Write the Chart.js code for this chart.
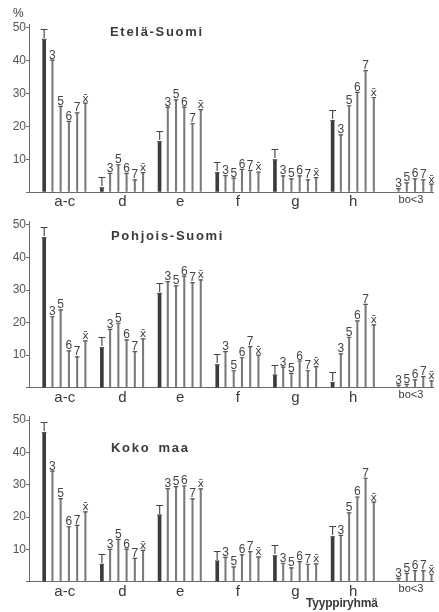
<!DOCTYPE html>
<html><head><meta charset="utf-8">
<script src="https://cdn.jsdelivr.net/npm/chart.js@4/dist/chart.umd.min.js"></script>
<style>
html,body{margin:0;padding:0;background:#fff;}
#wrap{position:relative;width:439px;height:612px;overflow:hidden;font-family:"Liberation Sans",Arial,sans-serif;color:#3a3a3a;}
canvas{position:absolute;left:0;}
.ttl{position:absolute;font-weight:bold;font-size:13px;letter-spacing:1.7px;word-spacing:3px;line-height:13px;white-space:nowrap;}
.lbl{position:absolute;font-size:12px;line-height:12px;white-space:nowrap;}
</style></head>
<body><div id="wrap">
<canvas id="c1" width="439" height="212" style="top:0px"></canvas>
<canvas id="c2" width="439" height="208" style="top:200px"></canvas>
<canvas id="c3" width="439" height="207" style="top:395px"></canvas>
<div class="lbl" style="left:13px;top:7px;">%</div>
<div class="ttl" style="left:110px;top:25px;">Etelä-Suomi</div>
<div class="ttl" style="left:111px;top:229px;">Pohjois-Suomi</div>
<div class="ttl" style="left:111px;top:441px;">Koko maa</div>
<div class="lbl" style="left:306px;top:597px;font-weight:bold;letter-spacing:-0.2px;">Tyyppiryhmä</div>
</div>
<script>
const categories = ['a-c','d','e','f','g','h','bo<3'];
const seriesLabels = ['T','3','5','6','7','x̄'];
const yTicks = [0,10,20,30,40,50];

// Etelä-Suomi
const etelaT = [46.5, 1.3, 15.4, 5.9, 9.8, 21.8, null];
const etela3 = [40.2, 5.7, 25.9, 5.0, 4.9, 17.4, 1.0];
const etela5 = [26.1, 8.3, 28.1, 4.2, 4.0, 26.3, 2.8];
const etela6 = [21.5, 5.7, 25.9, 6.9, 4.9, 30.4, 4.0];
const etela7 = [24.1, 3.7, 20.8, 6.6, 3.7, 37.0, 3.7];
const etelaX = [27.1, 5.9, 25.1, 6.1, 4.4, 28.8, 2.4];

// Pohjois-Suomi
const pohjoisT = [46.1, 12.3, 29.0, 7.0, 3.9, 1.6, null];
const pohjois3 = [21.8, 17.9, 32.6, 11.1, 6.3, 10.4, 0.8];
const pohjois5 = [23.9, 19.8, 31.3, 5.2, 4.4, 15.5, 1.0];
const pohjois6 = [11.3, 14.7, 34.3, 9.2, 8.2, 20.5, 2.4];
const pohjois7 = [9.5, 11.1, 32.3, 12.6, 5.2, 25.6, 3.4];
const pohjoisX = [14.4, 15.0, 33.1, 10.0, 6.5, 19.3, 2.1];

// Koko maa
const kokoT = [46.1, 5.4, 20.6, 6.4, 8.0, 13.9, null];
const koko3 = [34.2, 10.0, 28.8, 7.5, 5.7, 14.3, 1.0];
const koko5 = [25.7, 13.1, 29.4, 4.6, 4.3, 21.3, 2.6];
const koko6 = [17.0, 10.1, 29.6, 8.3, 6.2, 26.2, 3.4];
const koko7 = [17.4, 7.2, 25.6, 9.3, 5.4, 32.0, 3.4];
const kokoX = [21.6, 9.7, 28.7, 7.7, 5.5, 24.6, 2.3];

const SLOTS = seriesLabels.length + 1;

function buildPoints(seriesList, onlyFirst){
  const pts = [];
  seriesList.forEach((arr, s) => {
    if (onlyFirst !== (s === 0)) return;
    arr.forEach((v, g) => {
      if (v === null || v === undefined) return;
      pts.push({x: g*SLOTS + s, y: v, s: s});
    });
  });
  return pts;
}

const labelPlugin = {
  id: 'barLabels',
  afterDatasetsDraw(chart){
    const ctx = chart.ctx;
    ctx.save();
    ctx.fillStyle = '#444';
    ctx.textAlign = 'center';
    ctx.textBaseline = 'alphabetic';
    [0,1].forEach(di => {
      const meta = chart.getDatasetMeta(di);
      const data = chart.data.datasets[di].data;
      meta.data.forEach((el, i) => {
        const s = data[i].s;
        const txt = seriesLabels[s];
        ctx.font = s === 5 ? '11px "DejaVu Sans", sans-serif' : '12px "Liberation Sans", Arial, sans-serif';
        ctx.fillText(txt, el.x, el.y - 1.5);
      });
    });
    ctx.restore();
  }
};

function makeChart(id, seriesList, padTop, xH){
  const tPts = buildPoints(seriesList, true);
  const oPts = buildPoints(seriesList, false);
  const allPts = tPts.concat(oPts);
  new Chart(document.getElementById(id), {
    type: 'bar',
    data: {
      datasets: [
        {data: tPts, backgroundColor:'#3c3c3c', barThickness:3, grouped:false, order:2},
        {data: oPts, backgroundColor:'#7a7a7a', barThickness:1.4, grouped:false, order:2},
        {type:'line', data: allPts, showLine:false, pointStyle:'line', pointRadius:2.3,
         pointBorderWidth:1.2, pointBorderColor:'#555', pointBackgroundColor:'#555', order:1}
      ]
    },
    options: {
      responsive:false, animation:false,
      layout:{padding:{top:padTop, left:0, right:2, bottom:0}},
      plugins:{legend:{display:false}, tooltip:{enabled:false}, title:{display:false}},
      scales:{
        x:{
          type:'linear', min:-1.842, max:47.277, offset:false,
          grid:{display:false, drawTicks:false},
          border:{display:true, color:'#6a6a6a', width:1},
          afterBuildTicks(scale){ scale.ticks = categories.map((c,i)=>({value: i*SLOTS + 2.5})); },
          afterFit(scale){ scale.height = xH; },
          ticks:{
            autoSkip:false, maxRotation:0, padding:1, color:'#3a3a3a',
            font:(c)=> (c.index === 6 ? {size:11, family:'"Liberation Sans", Arial, sans-serif'} : {size:15, family:'"Liberation Sans", Arial, sans-serif'}),
            callback:(v, i)=> categories[i]
          }
        },
        y:{
          type:'linear', min:0, max:51,
          grid:{display:true, drawOnChartArea:false, drawTicks:true, tickLength:3, color:'#6a6a6a'},
          border:{display:true, color:'#6a6a6a', width:1},
          afterBuildTicks(scale){ scale.ticks = yTicks.map(v=>({value:v})); },
          afterFit(scale){ scale.width = 29; },
          ticks:{padding:0, color:'#555', font:{size:12, family:'"Liberation Sans", Arial, sans-serif'},
                 callback:(v)=> v === 0 ? '' : String(v)}
        }
      }
    },
    plugins:[labelPlugin]
  });
}

makeChart('c1', [etelaT, etela3, etela5, etela6, etela7, etelaX], 24.7, 20);
makeChart('c2', [pohjoisT, pohjois3, pohjois5, pohjois6, pohjois7, pohjoisX], 21.7, 20.3);
makeChart('c3', [kokoT, koko3, koko5, koko6, koko7, kokoX], 21.8, 20.3);
</script>
</body></html>
